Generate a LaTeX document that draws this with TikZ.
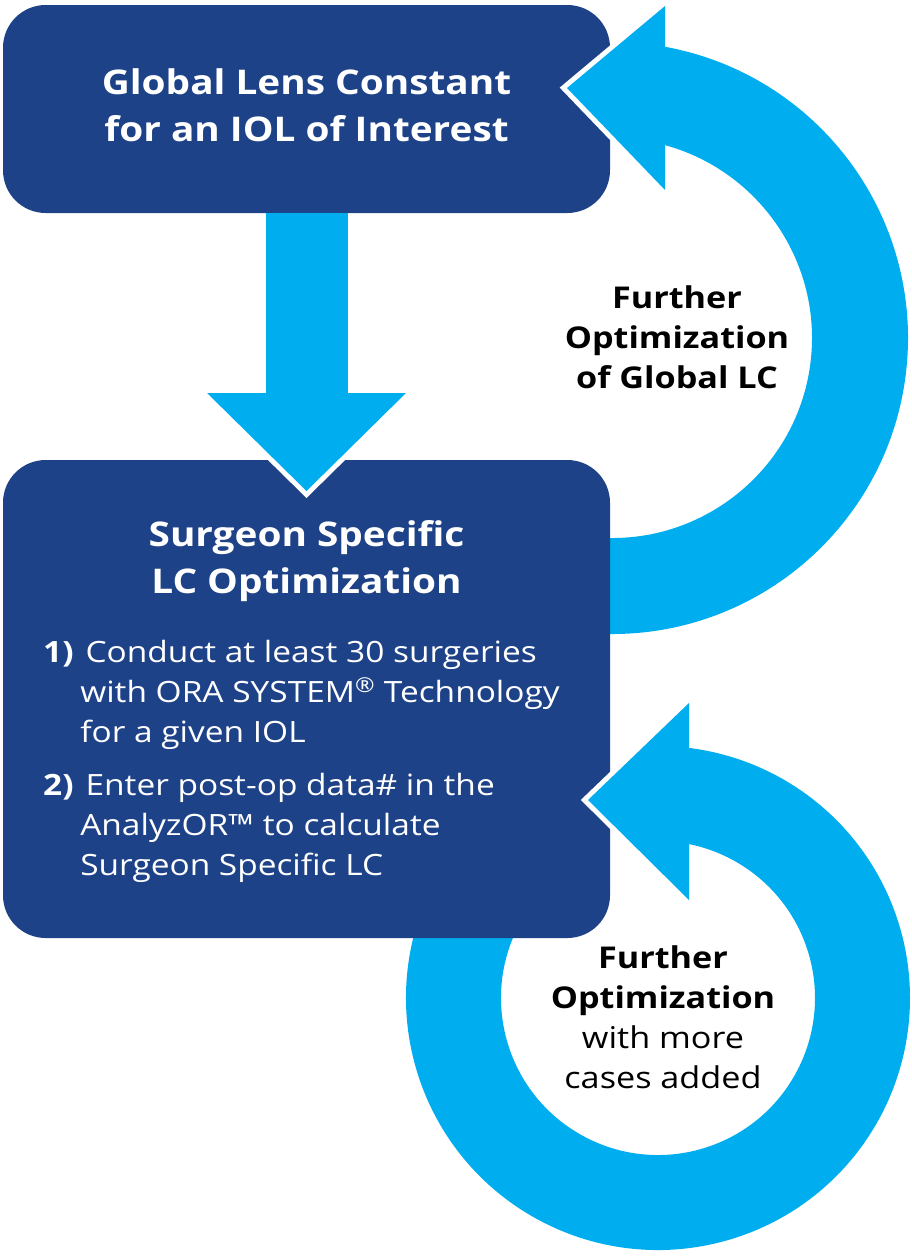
\documentclass[tikz,border=0pt]{standalone}
\usepackage{fontspec}
\setmainfont{Open Sans}[FakeStretch=1.14]
\usepackage{tikz}
\usetikzlibrary{positioning}

\begin{document}
\begin{tikzpicture}[x=0.75pt,y=0.75pt,
  box/.style={rectangle,fill=orablue,rounded corners=32pt,inner sep=0pt,outer sep=0pt,minimum width=455.25pt},
  boxtitle/.style={text=white,font=\fontsize{25.5}{35}\selectfont\bfseries,align=center},
  steptext/.style={text=white,font=\fontsize{22}{30}\selectfont,align=left,anchor=north west,inner sep=0pt},
  looptext/.style={font=\fontsize{22.5}{30}\selectfont,align=center},
  ring/.style={draw=oracyan,line width=72pt},
  head/.style={fill=oracyan},
  rim/.style={draw=white,line width=7.5pt,line join=miter}]
\definecolor{orablue}{RGB}{30,66,135}
\definecolor{oracyan}{RGB}{0,174,239}
\useasboundingbox (0,0) rectangle (911,-1260);
\coordinate (topc) at (612,-338);
\coordinate (lowc) at (658,-998);
\draw[ring] (topc) ++(-95:248) arc[start angle=-95,end angle=81,radius=248];
\draw[ring,line width=71.25pt] (lowc) ++(150:204.5) arc[start angle=150,end angle=444,radius=204.5];
\node[box,minimum height=156pt] (global) at (306.5,-109) {};
\node[boxtitle] (globaltitle) at (306.5,-105) {Global Lens Constant\\for an IOL of Interest};
\node[box,minimum height=358.5pt] (surgeon) at (306.5,-699) {};
\node[boxtitle] (surgeontitle) at (306.5,-561) {Surgeon Specific\\LC Optimization};
\node[steptext] (stepone) at (80,-640) {\llap{\textbf{1)}\hspace{5pt}}\hspace{4pt}Conduct at least 30 surgeries\\with ORA SYSTEM\textsuperscript{®} Technology\\for a given IOL};
\node[steptext] (steptwo) at (80,-773) {\llap{\textbf{2)}\hspace{5pt}}\hspace{4pt}Enter post-op data\# in the\\AnalyzOR™ to calculate\\Surgeon Specific LC};
\coordinate (tophead1) at (665,-6);
\coordinate (tophead2) at (665,-190);
\coordinate (toptip) at (567,-88);
\draw[rim] (tophead1) -- (toptip) -- (tophead2);
\fill[head] (tophead1) -- (toptip) -- (tophead2) -- cycle;
\coordinate (lowhead1) at (689,-703);
\coordinate (lowhead2) at (689,-900);
\coordinate (lowtip) at (588,-800);
\draw[rim] (lowhead1) -- (lowtip) -- (lowhead2);
\fill[head] (lowhead1) -- (lowtip) -- (lowhead2) -- cycle;
\coordinate (tip) at ([yshift=-23.25pt]surgeon.north);
\coordinate (neck) at ([yshift=50.25pt]surgeon.north);
\fill[head] ([xshift=-30.75pt]global.south) rectangle ([xshift=30.75pt,yshift=-1pt]neck);
\draw[rim] ([xshift=-74.6pt]neck) -- (tip) -- ([xshift=74.6pt]neck);
\fill[head] ([xshift=-74.6pt]neck) -- (tip) -- ([xshift=74.6pt]neck) -- cycle;
\node[looptext] (globalloop) at (677,-337) {\textbf{Further}\\\textbf{Optimization}\\\textbf{of Global LC}};
\node[looptext] (caseloop) at (663,-1017) {\textbf{Further}\\\textbf{Optimization}\\with more\\cases added};
\end{tikzpicture}
\end{document}
